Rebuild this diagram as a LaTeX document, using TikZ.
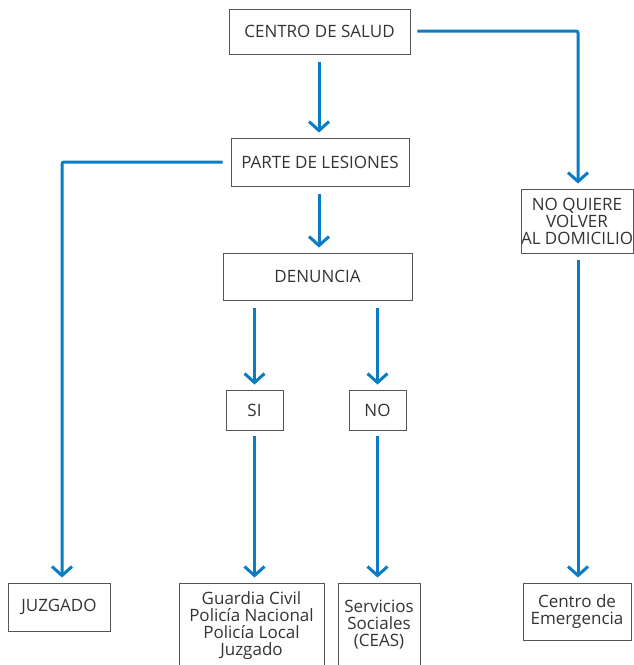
\documentclass[tikz,border=0pt]{standalone}
\usepackage{fontspec}
\setmainfont{Open Sans}
\usetikzlibrary{arrows.meta}
\definecolor{lineblue}{HTML}{0A7CC4}
\definecolor{txt}{HTML}{333333}
\definecolor{boxline}{HTML}{555555}
\begin{document}
\begin{tikzpicture}[x=1pt,y=-1pt,
  box/.style={draw=boxline,line width=0.9pt,text=txt,inner sep=0pt,align=center,
    font=\fontsize{17}{17}\selectfont},
  conn/.style={draw=lineblue,line width=3pt,
    -{Straight Barb[length=9pt,width=20pt,line width=3pt]}}]
\useasboundingbox (0,0) rectangle (634,665);
\clip (0,0) rectangle (634,665);
\node[box,minimum width=181pt,minimum height=45pt] (cs) at (319.5,31.5) {CENTRO DE SALUD};
\node[box,minimum width=178pt,minimum height=48pt] (pl) at (320,162) {PARTE DE LESIONES};
\node[box,minimum width=189pt,minimum height=47pt] (den) at (317.5,276.5) {DENUNCIA};
\node[box,minimum width=57pt,minimum height=40pt] (si) at (254.5,410) {SI};
\node[box,minimum width=57pt,minimum height=40pt] (no) at (377.5,410) {NO};
\node[box,minimum width=110pt,minimum height=64pt] (nq) at (577,221) {NO QUIERE\\VOLVER\\AL DOMICILIO};
\node[box,minimum width=102pt,minimum height=48pt] (juz) at (59,607) {JUZGADO};
\node[box,minimum width=145pt,minimum height=88pt] (gc) at (251.5,627) {};
\node[text=txt,align=center,font=\fontsize{17}{17}\selectfont,inner sep=0pt] (gct) at (251.5,626) {Guardia Civil\\Policía Nacional\\Policía Local\\Juzgado};
\node[box,minimum width=82pt,minimum height=88pt] (ss) at (379,627) {};
\node[text=txt,align=center,font=\fontsize{17}{17}\selectfont,inner sep=0pt] (sst) at (379,625) {Servicios\\Sociales\\(CEAS)};
\node[box,minimum width=108pt,minimum height=57pt] (ce) at (577,611.5) {Centro de\\Emergencia};
\coordinate (c1) at (62,162);
\coordinate (c2) at (578,31);
\draw[conn,shorten <=8pt,shorten >=5pt] (cs.south -| 319,0) -- (pl.north -| 319,0);
\draw[conn,shorten <=8pt,shorten >=5pt] (pl.south -| 319,0) -- (den.north -| 319,0);
\draw[conn,shorten <=8pt,shorten >=5pt] (den.south -| si) -- (si.north);
\draw[conn,shorten <=8pt,shorten >=5pt] (den.south -| no) -- (no.north);
\draw[conn,shorten <=6pt,shorten >=5pt] (si.south) -- (gc.north -| si);
\draw[conn,shorten <=6pt,shorten >=5pt] (no.south) -- (ss.north -| no);
\draw[conn,shorten <=8pt,shorten >=5pt,rounded corners=2pt] (pl.west) -- (c1) -- (juz.north -| c1);
\draw[conn,shorten <=7pt,shorten >=5pt,rounded corners=2pt] (cs.east |- c2) -- (c2) -- (nq.north -| c2);
\draw[conn,shorten <=7pt,shorten >=5pt] (nq.south -| c2) -- (ce.north -| c2);
\end{tikzpicture}
\end{document}
